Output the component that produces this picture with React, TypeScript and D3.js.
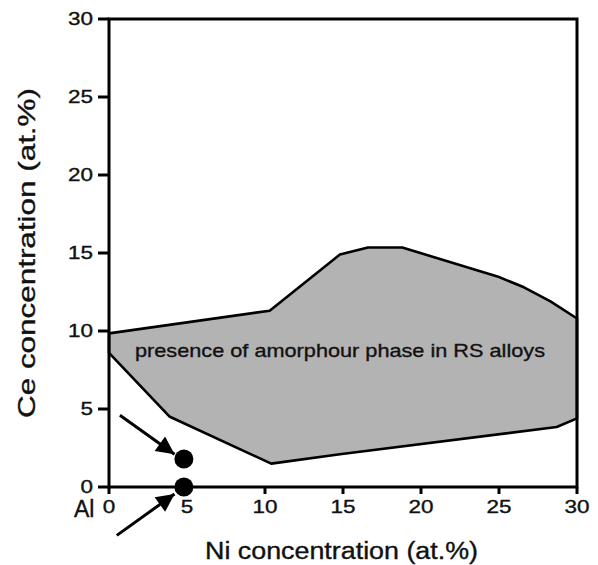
import React from "react";
import * as d3 from "d3";

const xTicks = [0, 5, 10, 15, 20, 25, 30];
const yTicks = [0, 5, 10, 15, 20, 25, 30];

const upperX = [0, 10.3, 14.8, 16.6, 18.8, 24.9, 26.6, 28.3, 30];
const upperY = [9.85, 11.3, 14.9, 15.35, 15.35, 13.5, 12.8, 11.9, 10.8];
const lowerX = [0, 3.9, 10.4, 14.8, 28.7, 30];
const lowerY = [8.6, 4.5, 1.5, 2.1, 3.85, 4.4];

const dotX = [4.8, 4.8];
const dotY = [1.8, 0];

const arrowFromX = [0.7, 0.5];
const arrowFromY = [4.6, -3.1];
const arrowToX = [4.2, 4.2];
const arrowToY = [2.1, -0.45];

const label = "presence of amorphour phase in RS alloys";
const xTitle = "Ni concentration (at.%)";
const yTitle = "Ce concentration (at.%)";

export default function App() {
  const W = 598, H = 565;
  const x = d3.scaleLinear().domain([0, 30]).range([109, 577]);
  const y = d3.scaleLinear().domain([0, 30]).range([487, 19]);
  const font = "Liberation Sans, Arial, sans-serif";
  const heavy = { stroke: "#111", strokeWidth: 0.35 };

  const pts: [number, number][] = [
    ...upperX.map((v, i) => [x(v), y(upperY[i])] as [number, number]),
    ...lowerX
      .map((v, i) => [x(v), y(lowerY[i])] as [number, number])
      .reverse(),
  ];
  const area = d3.line().curve(d3.curveLinearClosed)(pts) || "";

  return (
    <svg
      width={W}
      height={H}
      style={{ position: "absolute", left: 0, top: 0, background: "#fff" }}
    >
      <defs>
        <marker
          id="ah"
          viewBox="0 0 10 10"
          refX="10"
          refY="5"
          markerWidth="6.5"
          markerHeight="6"
          orient="auto"
          markerUnits="strokeWidth"
        >
          <path d="M0,0 L10,5 L0,10 z" fill="#000" />
        </marker>
      </defs>
      <path d={area} fill="#b3b3b3" stroke="#000" strokeWidth={2.6} strokeLinejoin="round" />
      <text
        x={135}
        y={357}
        fontFamily={font}
        fontSize={19}
        textLength={410}
        lengthAdjust="spacingAndGlyphs"
        fill="#111"
        {...heavy}
      >
        {label}
      </text>
      {/* frame */}
      <rect
        x={x(0)}
        y={y(30)}
        width={x(30) - x(0)}
        height={y(0) - y(30)}
        fill="none"
        stroke="#000"
        strokeWidth={3}
      />
      {yTicks.map((t) => (
        <g key={"y" + t}>
          <line x1={x(0) - 11} x2={x(0)} y1={y(t)} y2={y(t)} stroke="#000" strokeWidth={3} />
          <text
            x={93}
            y={y(t)}
            dy="0.36em"
            textAnchor="end"
            fontFamily={font}
            fontSize={18}
            textLength={t >= 10 ? 25 : 12.5}
            lengthAdjust="spacingAndGlyphs"
            fill="#111"
            {...heavy}
          >
            {t}
          </text>
        </g>
      ))}
      {xTicks.map((t) => (
        <g key={"x" + t}>
          <line x1={x(t)} x2={x(t)} y1={y(0)} y2={y(0) + 7} stroke="#000" strokeWidth={3} />
          <text
            x={x(t)}
            y={513}
            textAnchor="middle"
            fontFamily={font}
            fontSize={18}
            textLength={t >= 10 ? 25 : 12.5}
            lengthAdjust="spacingAndGlyphs"
            fill="#111"
            {...heavy}
          >
            {t}
          </text>
        </g>
      ))}
      <text x={74} y={517} fontFamily={font} fontSize={23} fill="#111" {...heavy}>
        Al
      </text>
      <text
        x={(205 + 478) / 2}
        y={559}
        textAnchor="middle"
        fontFamily={font}
        fontSize={23}
        textLength={273}
        lengthAdjust="spacingAndGlyphs"
        fill="#111"
        {...heavy}
      >
        {xTitle}
      </text>
      <text
        transform={`translate(35, ${(88 + 418) / 2}) rotate(-90)`}
        textAnchor="middle"
        fontFamily={font}
        fontSize={24}
        textLength={330}
        lengthAdjust="spacingAndGlyphs"
        fill="#111"
        {...heavy}
      >
        {yTitle}
      </text>
      {arrowFromX.map((v, i) => (
        <line
          key={"a" + i}
          x1={x(v)}
          y1={y(arrowFromY[i])}
          x2={x(arrowToX[i])}
          y2={y(arrowToY[i])}
          stroke="#000"
          strokeWidth={3}
          markerEnd="url(#ah)"
        />
      ))}
      {dotX.map((v, i) => (
        <circle key={"d" + i} cx={x(v)} cy={y(dotY[i])} r={9.5} fill="#000" />
      ))}
    </svg>
  );
}
